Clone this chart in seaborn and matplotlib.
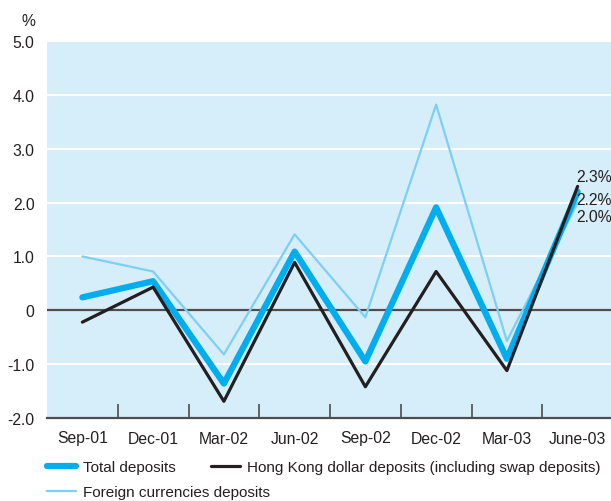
import pandas as pd
import numpy as np
import matplotlib
matplotlib.use('Agg')
import matplotlib.pyplot as plt
import seaborn as sns

# DATA--------
quarters = ['Sep-01', 'Dec-01', 'Mar-02', 'Jun-02', 'Sep-02', 'Dec-02', 'Mar-03', 'June-03']
total = [0.24, 0.54, -1.36, 1.09, -0.95, 1.91, -0.90, 2.2]
hkd = [-0.22, 0.43, -1.69, 0.89, -1.42, 0.72, -1.12, 2.3]
foreign = [1.0, 0.72, -0.82, 1.41, -0.13, 3.82, -0.57, 2.0]
end_labels = ['2.3%', '2.2%', '2.0%']
yticks = [-2, -1, 0, 1, 2, 3, 4, 5]
#-------------

bg = '#D6EDFA'
c_total = '#00AEEF'
c_hkd = '#231F20'
c_foreign = '#7DCFF5'
grey = '#4D4D4D'
fs = 11.3
fs_leg = 11

sns.set_theme(style='white', rc={'axes.facecolor': bg})
plt.rcParams['font.family'] = ['Liberation Sans', 'DejaVu Sans']

df = pd.DataFrame({'x': np.arange(len(quarters)), 'total': total, 'hkd': hkd, 'foreign': foreign})

fig = plt.figure(figsize=(6.11, 5.02), dpi=100)
ax = fig.add_axes([47 / 611, 1 - 419 / 502, 566 / 611, 377 / 502])

for y in yticks[1:]:
    ax.axhline(y, color='white', lw=1.6, zorder=1)
ax.axhline(0, color=grey, lw=1.6, zorder=2)

sns.lineplot(data=df, x='x', y='foreign', ax=ax, color=c_foreign, lw=1.6, zorder=3,
             label='Foreign currencies deposits')
sns.lineplot(data=df, x='x', y='total', ax=ax, color=c_total, lw=4.5, zorder=4,
             label='Total deposits')
sns.lineplot(data=df, x='x', y='hkd', ax=ax, color=c_hkd, lw=2.3, zorder=5,
             label='Hong Kong dollar deposits (including swap deposits)')

ax.set_xlim(-0.5, len(quarters) - 0.5)
ax.set_ylim(-2, 5)
ax.set_yticks(yticks)
ax.set_yticklabels(['0' if v == 0 else f'{v:.1f}' for v in yticks], fontsize=fs, color='#231F20')
ax.set_xticks(df['x'])
ax.set_xticklabels(quarters, fontsize=fs, color='#231F20')
ax.set_xticks(df['x'][:-1] + 0.5, minor=True)
ax.tick_params(axis='x', which='major', length=0, pad=9)
ax.tick_params(axis='x', which='minor', direction='in', length=10, width=1.2, color=grey, bottom=True)
ax.tick_params(axis='y', length=0, pad=9)
ax.set_xlabel('')
ax.set_ylabel('')
for s in ['top', 'right', 'left']:
    ax.spines[s].set_visible(False)
ax.spines['bottom'].set_color(grey)
ax.spines['bottom'].set_linewidth(1.6)

# end-of-series labels
last = len(quarters) - 1
for val, txt, dy in zip([hkd[-1], total[-1], foreign[-1]], end_labels, [10, -8, -14]):
    ax.annotate(txt, xy=(last, val), xytext=(-1, dy), textcoords='offset pixels',
                ha='left', va='center', fontsize=fs, color='#231F20', zorder=6)

fig.text(28 / 611, 1 - 21 / 502, '%', ha='center', va='center', fontsize=fs, color='#231F20')

handles, labels = ax.get_legend_handles_labels()
ax.get_legend().remove()
leg_kw = dict(frameon=False, fontsize=fs_leg, handlelength=1.9, handletextpad=0.46,
              borderaxespad=0, borderpad=0, loc='center left')
fig.legend([handles[1], handles[2]], [labels[1], labels[2]], ncol=2,
           bbox_to_anchor=(47 / 611, 1 - 468 / 502), columnspacing=2.3, **leg_kw)
fig.legend([handles[0]], [labels[0]], bbox_to_anchor=(47 / 611, 1 - 493 / 502), **leg_kw)
for lg in fig.legends:
    for t in lg.get_texts():
        t.set_color('#231F20')

fig.savefig('out.png', dpi=100)
